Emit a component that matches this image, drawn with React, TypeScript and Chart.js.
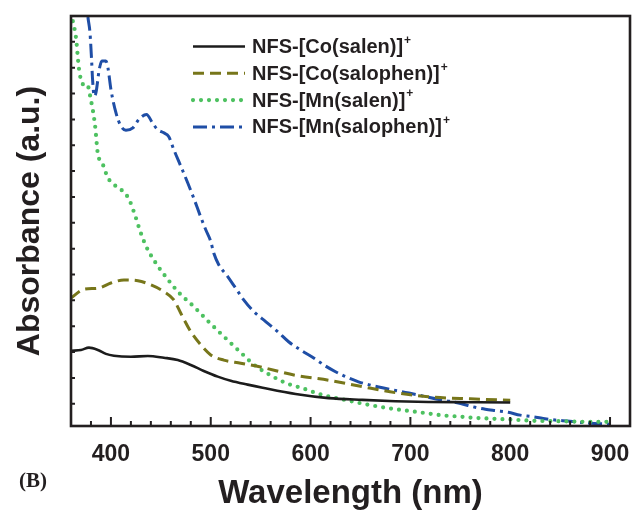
import React, { useEffect, useRef } from 'react';
import { Chart, registerables } from 'chart.js';

Chart.register(...registerables);

const FONT = '"Liberation Sans", Arial, Helvetica, sans-serif';
const INK = '#231f20';

// ---- data ----
const seriesLabels = ['NFS-[Co(salen)]', 'NFS-[Co(salophen)]', 'NFS-[Mn(salen)]', 'NFS-[Mn(salophen)]'];
const seriesColors = ['#1c1c1c', '#77761a', '#4dc160', '#1f4ea6'];

const coSalenNm = [360, 370, 378, 387, 395, 403, 420, 437, 453, 467, 480, 493, 507, 520, 537, 552, 585, 618, 652, 685, 718, 760, 800];
const coSalenAbs = [2.05, 2.08, 2.17, 2.08, 1.93, 1.86, 1.82, 1.85, 1.78, 1.69, 1.5, 1.27, 1.05, 0.89, 0.74, 0.62, 0.38, 0.22, 0.15, 0.1, 0.07, 0.06, 0.05];

const coSalophenNm = [360, 373, 387, 400, 413, 427, 440, 453, 463, 470, 480, 490, 500, 513, 530, 550, 585, 618, 652, 685, 718, 760, 800];
const coSalophenAbs = [4.09, 4.43, 4.47, 4.67, 4.79, 4.76, 4.6, 4.34, 4.02, 3.5, 2.79, 2.28, 1.89, 1.69, 1.57, 1.42, 1.1, 0.91, 0.66, 0.43, 0.27, 0.19, 0.14];

const mnSalenNm = [360, 362, 365, 368, 372, 376, 380, 384, 387, 391, 397, 404, 412, 418, 424, 429, 435, 444, 455, 468, 483, 498, 514, 529, 544, 560, 576, 592, 607, 622, 638, 654, 670, 685, 701, 717, 732, 747, 763, 778, 794, 809, 825, 842, 857, 873, 888, 900];
const mnSalenAbs = [15.1, 14.77, 14.16, 12.96, 12.36, 12.36, 11.74, 10.8, 9.64, 9.34, 8.74, 8.45, 8.22, 7.92, 7.31, 6.71, 6.11, 5.5, 4.91, 4.3, 3.76, 3.17, 2.57, 2.02, 1.49, 1.1, 0.79, 0.6, 0.4, 0.25, 0.12, -0.01, -0.12, -0.21, -0.29, -0.37, -0.45, -0.49, -0.54, -0.57, -0.6, -0.63, -0.66, -0.67, -0.68, -0.7, -0.7, -0.7];

const mnSalophenNm = [374, 377, 379, 380.6, 381.6, 383.3, 385, 388.3, 391, 395, 397, 400, 405, 410, 415, 422, 428, 435.6, 441.6, 446.6, 453, 458, 463, 470, 477, 483, 490, 495, 500, 503, 508, 517, 525, 533, 543, 555, 567, 578, 590, 602, 615, 625, 635, 648, 658, 672, 683, 695, 708, 718, 732, 742, 752, 763, 775, 787, 798, 810, 822, 833, 845, 857, 868, 880, 895, 900];
const mnSalophenAbs = [16, 14.94, 14.36, 13.32, 12.55, 11.9, 12.03, 12.93, 13.26, 13.26, 13.0, 12.16, 11.26, 10.74, 10.58, 10.67, 11.0, 11.19, 10.87, 10.61, 10.48, 10.33, 9.83, 9.19, 8.54, 7.95, 7.22, 6.73, 6.28, 5.83, 5.38, 4.92, 4.47, 4.02, 3.57, 3.18, 2.79, 2.4, 2.08, 1.8, 1.46, 1.24, 1.05, 0.85, 0.74, 0.62, 0.53, 0.44, 0.34, 0.25, 0.14, 0.08, -0.01, -0.12, -0.21, -0.27, -0.33, -0.44, -0.5, -0.57, -0.63, -0.67, -0.71, -0.75, -0.78, -0.79];

const xMin = 360;
const xMax = 920;
const xMinorStep = 20;
const xMajorStep = 100;
const yMin = -0.86;
const yMax = 15;
const xTitle = 'Wavelength (nm)';
const yTitle = 'Absorbance (a.u.)';
const panelLabel = '(B)';

const toPoints = (xs: number[], ys: number[]) => xs.map((x, i) => ({ x, y: ys[i] }));

const decorPlugin = {
  id: 'decor',
  afterDraw(chart: any) {
    const { ctx, chartArea: a } = chart;
    const xs = chart.scales.x;
    const ys = chart.scales.y;
    ctx.save();
    ctx.setLineDash([]);
    ctx.strokeStyle = INK;
    ctx.lineWidth = 2;
    ctx.beginPath();
    xs.ticks.forEach((t: any) => {
      if (t.value <= xs.min || t.value >= xs.max) return;
      const px = xs.getPixelForValue(t.value);
      const len = t.value % xMajorStep === 0 ? 9 : 5;
      ctx.moveTo(px, a.bottom);
      ctx.lineTo(px, a.bottom - len);
    });
    ys.ticks.forEach((t: any) => {
      if (!Number.isInteger(t.value) || t.value >= ys.max) return;
      const py = ys.getPixelForValue(t.value);
      ctx.moveTo(a.left, py);
      ctx.lineTo(a.left + 4, py);
    });
    ctx.stroke();
    ctx.lineWidth = 2.6;
    ctx.strokeRect(a.left, a.top, a.right - a.left, a.bottom - a.top);

    // legend
    const lx0 = a.left + 122;
    const lx1 = a.left + 174;
    const tx = a.left + 181;
    chart.data.datasets.forEach((ds: any, i: number) => {
      const y = a.top + 30.5 + i * 26.8;
      ctx.save();
      ctx.strokeStyle = ds.borderColor;
      ctx.lineWidth = ds.borderWidth;
      ctx.lineCap = ds.borderCapStyle || 'butt';
      ctx.setLineDash(ds.borderDash || []);
      ctx.beginPath();
      ctx.moveTo(lx0, y);
      ctx.lineTo(lx1, y);
      ctx.stroke();
      ctx.restore();
      ctx.fillStyle = INK;
      ctx.font = `bold 20px ${FONT}`;
      ctx.textAlign = 'left';
      ctx.textBaseline = 'middle';
      ctx.fillText(ds.label, tx, y + 1);
      const w = ctx.measureText(ds.label).width;
      ctx.font = `bold 12px ${FONT}`;
      ctx.fillText('+', tx + w + 1, y - 6);
    });

    // panel label
    ctx.fillStyle = INK;
    ctx.font = 'bold 21px "Liberation Serif", "Times New Roman", serif';
    ctx.textAlign = 'left';
    ctx.textBaseline = 'alphabetic';
    ctx.fillText(panelLabel, 19, 487);
    ctx.restore();
  },
};

export default function App() {
  const ref = useRef<HTMLCanvasElement>(null);
  useEffect(() => {
    const lineCommon = { fill: false, pointRadius: 0, cubicInterpolationMode: 'monotone' as const };
    const chart = new Chart(ref.current as HTMLCanvasElement, {
      type: 'line',
      data: {
        datasets: [
          { ...lineCommon, label: seriesLabels[0], data: toPoints(coSalenNm, coSalenAbs), borderColor: seriesColors[0], borderWidth: 2.6 },
          { ...lineCommon, label: seriesLabels[1], data: toPoints(coSalophenNm, coSalophenAbs), borderColor: seriesColors[1], borderWidth: 3, borderDash: [11, 6] },
          { ...lineCommon, label: seriesLabels[2], data: toPoints(mnSalenNm, mnSalenAbs), borderColor: seriesColors[2], borderWidth: 4.2, borderDash: [0, 8], borderCapStyle: 'round' },
          { ...lineCommon, label: seriesLabels[3], data: toPoints(mnSalophenNm, mnSalophenAbs), borderColor: seriesColors[3], borderWidth: 3, borderDash: [14, 5, 3, 5] },
        ] as any,
      },
      options: {
        responsive: false,
        animation: false,
        devicePixelRatio: 1,
        layout: { padding: { top: 16, right: 5, left: 0, bottom: 0 } },
        plugins: { legend: { display: false }, tooltip: { enabled: false } },
        scales: {
          x: {
            type: 'linear',
            min: xMin,
            max: xMax,
            grid: { display: false, drawTicks: false },
            border: { display: false },
            ticks: {
              stepSize: xMinorStep,
              autoSkip: false,
              maxRotation: 0,
              padding: 15,
              color: INK,
              font: { family: FONT, size: 23, weight: 'bold' },
              callback: (v: any) => (Number(v) % xMajorStep === 0 ? String(v) : ''),
            },
            title: {
              display: true,
              text: xTitle,
              color: INK,
              font: { family: FONT, size: 33, weight: 'bold' },
              padding: { top: 0, bottom: 0 },
            },
            afterFit: (s: any) => {
              s.height = 88;
              s.paddingLeft = 0;
              s.paddingRight = 0;
            },
          },
          y: {
            type: 'linear',
            min: yMin,
            max: yMax,
            grid: { display: false, drawTicks: false },
            border: { display: false },
            ticks: { display: false, stepSize: 1 },
            title: {
              display: true,
              text: yTitle,
              color: INK,
              font: { family: FONT, size: 32, weight: 'bold' },
              padding: { top: 11, bottom: 0 },
            },
            afterFit: (s: any) => {
              s.width = 71;
              s.paddingTop = 0;
              s.paddingBottom = 0;
            },
          },
        },
      } as any,
      plugins: [decorPlugin],
    });
    return () => chart.destroy();
  }, []);
  return (
    <div style={{ position: 'absolute', left: 0, top: 0, width: 635, height: 514, background: '#fff' }}>
      <canvas ref={ref} width={635} height={514} style={{ display: 'block' }} />
    </div>
  );
}
